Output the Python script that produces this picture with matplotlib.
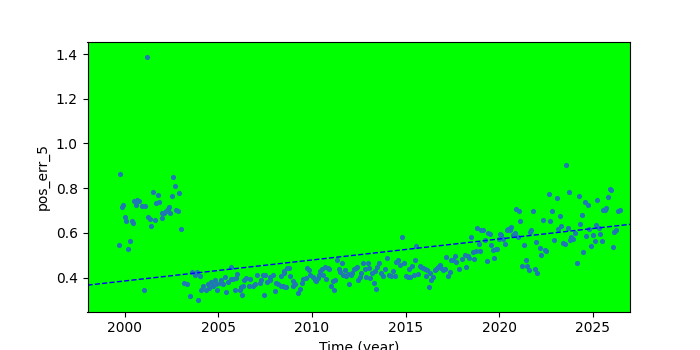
import matplotlib
matplotlib.use("Agg")
import matplotlib.pyplot as plt

years = [
    1999.75, 1999.90, 1999.86, 2000.00, 2000.07, 1999.70, 2000.28, 2000.18, 2000.36, 2000.45,
    2000.48, 2000.62, 2000.75, 2000.60, 2000.89, 2001.07, 2001.03, 2001.25, 2001.35, 2001.40,
    2001.62, 2001.51, 2001.67, 2001.78, 2001.83, 2001.96, 2001.99, 2002.10, 2002.19, 2002.28,
    2002.35, 2002.42, 2002.51, 2002.58, 2002.69, 2002.74, 2002.86, 2002.90, 2003.00, 2003.14,
    2003.33, 2001.19,
    2003.49, 2003.60, 2003.72, 2003.86, 2003.92, 2004.04, 2004.08, 2004.17, 2004.34, 2004.43,
    2004.52, 2004.61, 2004.70, 2004.79, 2004.88, 2004.93, 2005.06, 2005.15, 2005.24, 2005.36,
    2005.41, 2005.50, 2005.65, 2005.68, 2005.79, 2005.86, 2005.95, 2006.00, 2006.13, 2006.18,
    2006.25, 2006.30, 2006.39, 2006.48, 2006.61, 2006.71, 2006.85, 2006.93, 2007.07, 2007.20,
    2007.28, 2007.37, 2007.43, 2007.50, 2007.60, 2007.73, 2007.78, 2007.90, 2008.03, 2008.08,
    2008.17, 2008.32, 2008.35, 2008.44, 2008.53, 2008.62, 2008.67,
    2008.49, 2008.78, 2008.55, 2008.81, 2008.99, 2009.08, 2008.96, 2009.26, 2009.35, 2009.44,
    2009.53, 2009.67, 2009.71, 2009.85, 2009.92, 2010.06, 2010.15, 2010.24, 2010.32, 2010.38,
    2010.45, 2010.56, 2010.59, 2010.68, 2010.77, 2010.86, 2010.91, 2011.04, 2011.13, 2011.22,
    2011.16, 2011.34, 2011.45, 2011.52, 2011.63, 2011.66, 2011.75, 2011.84, 2011.93, 2011.98,
    2012.06, 2012.16, 2012.23, 2012.34, 2012.41, 2012.46, 2012.55, 2012.64, 2012.73, 2012.82,
    2012.91, 2013.00, 2013.05, 2013.12, 2013.23, 2013.30, 2013.35, 2013.44, 2013.48, 2013.58,
    2013.71, 2013.80, 2013.89, 2014.01, 2014.12, 2014.24, 2014.33, 2014.42, 2014.51, 2014.60,
    2014.69, 2014.81, 2014.90, 2015.01, 2015.13, 2015.18, 2015.26, 2015.36, 2015.43, 2015.49,
    2015.54, 2015.67, 2015.76, 2015.85, 2015.93, 2016.03, 2016.08, 2016.15, 2016.26, 2016.33,
    2016.38, 2016.47, 2016.56, 2016.65, 2016.74, 2016.83, 2016.92, 2017.00, 2017.09, 2017.18,
    2017.27, 2017.36, 2017.45, 2017.54, 2017.63, 2017.72, 2017.86,
    2018.03, 2018.16, 2018.21, 2018.34, 2018.39, 2018.52, 2018.61, 2018.66, 2018.79, 2018.82,
    2018.93, 2019.00, 2019.05, 2019.14, 2019.23, 2019.35, 2019.41, 2019.50, 2019.59, 2019.67,
    2019.71, 2019.82, 2019.89, 2019.99, 2020.07, 2020.12, 2020.21, 2020.30, 2020.42, 2020.48,
    2020.57, 2020.66, 2020.74, 2020.83, 2020.89, 2021.01, 2021.06, 2021.14, 2021.24, 2021.31,
    2021.42, 2021.49, 2021.60, 2021.63, 2021.72, 2021.81, 2021.90, 2021.96, 2022.03, 2022.17,
    2022.26, 2022.35, 2022.44, 2022.53, 2022.67, 2022.74, 2022.83, 2022.93, 2023.09, 2023.15,
    2023.24, 2023.33, 2023.41, 2023.50, 2023.56, 2023.68, 2023.73, 2023.81, 2023.86, 2023.95,
    2024.04, 2024.16, 2024.27, 2024.34, 2024.45, 2024.48, 2024.57, 2024.66, 2024.75, 2024.80,
    2024.93, 2025.01, 2025.11, 2025.16, 2025.23, 2025.34, 2025.37, 2025.52, 2025.55, 2025.64,
    2025.73, 2025.82, 2025.91, 2026.00, 2026.08, 2026.17, 2026.23, 2026.35, 2026.44,
]

pos_err = [
    0.863, 0.725, 0.716, 0.671, 0.654, 0.546, 0.565, 0.528, 0.651, 0.644,
    0.741, 0.748, 0.744, 0.726, 0.718, 0.718, 0.345, 0.669, 0.662, 0.631,
    0.658, 0.783, 0.733, 0.769, 0.738, 0.689, 0.666, 0.689, 0.699, 0.708,
    0.716, 0.689, 0.765, 0.850, 0.809, 0.704, 0.699, 0.778, 0.617, 0.376,
    0.369, 1.385,
    0.318, 0.425, 0.413, 0.425, 0.300, 0.406, 0.346, 0.361, 0.343, 0.369,
    0.354, 0.379, 0.361, 0.388, 0.369, 0.343, 0.376, 0.388, 0.369, 0.403,
    0.336, 0.379, 0.394, 0.448, 0.394, 0.346, 0.399, 0.417, 0.346, 0.358,
    0.320, 0.361, 0.388, 0.399, 0.361, 0.394, 0.364, 0.369, 0.413, 0.376,
    0.388, 0.413, 0.323, 0.413, 0.379, 0.403, 0.391, 0.413, 0.341, 0.376,
    0.369, 0.361, 0.406, 0.364, 0.428, 0.358, 0.443,
    0.421, 0.443, 0.358, 0.406, 0.384, 0.369, 0.364, 0.329, 0.350, 0.376,
    0.394, 0.399, 0.443, 0.433, 0.413, 0.403, 0.391, 0.384, 0.399, 0.413,
    0.428, 0.436, 0.413, 0.448, 0.394, 0.443, 0.436, 0.364, 0.384, 0.391,
    0.346, 0.477, 0.436, 0.424, 0.463, 0.413, 0.433, 0.406, 0.418, 0.369,
    0.413, 0.421, 0.436, 0.443, 0.448, 0.391, 0.403, 0.421, 0.466, 0.439,
    0.403, 0.466, 0.443, 0.399, 0.421, 0.376, 0.428, 0.350, 0.448, 0.463,
    0.421, 0.406, 0.436, 0.488, 0.413, 0.406, 0.428, 0.406, 0.468, 0.477,
    0.454, 0.582, 0.466, 0.406, 0.403, 0.436, 0.403, 0.450, 0.413, 0.477,
    0.540, 0.418, 0.450, 0.448, 0.443, 0.436, 0.409, 0.433, 0.358, 0.421,
    0.391, 0.403, 0.433, 0.439, 0.448, 0.454, 0.443, 0.433, 0.436, 0.492,
    0.406, 0.424, 0.480, 0.477, 0.498, 0.468, 0.436,
    0.483, 0.503, 0.448, 0.498, 0.488, 0.582, 0.513, 0.483, 0.517, 0.622,
    0.552, 0.517, 0.611, 0.611, 0.567, 0.473, 0.600, 0.596, 0.547, 0.522,
    0.488, 0.528, 0.528, 0.573, 0.596, 0.592, 0.573, 0.552, 0.611, 0.617,
    0.614, 0.626, 0.592, 0.600, 0.707, 0.582, 0.696, 0.653, 0.450, 0.547,
    0.480, 0.450, 0.433, 0.602, 0.611, 0.699, 0.436, 0.558, 0.421, 0.533,
    0.503, 0.656, 0.522, 0.517, 0.775, 0.651, 0.699, 0.570, 0.756, 0.617,
    0.674, 0.629, 0.555, 0.552, 0.904, 0.622, 0.783, 0.570, 0.582, 0.573,
    0.600, 0.466, 0.763, 0.641, 0.680, 0.515, 0.736, 0.585, 0.726, 0.617,
    0.540, 0.592, 0.562, 0.637, 0.748, 0.622, 0.596, 0.562, 0.700, 0.704,
    0.711, 0.760, 0.796, 0.790, 0.537, 0.602, 0.614, 0.696, 0.700,
]

trend_x = [1998.0, 2027.0]
trend_y = [0.366, 0.638]

fig, ax = plt.subplots(figsize=(7, 3.5), dpi=100)
ax.set_facecolor('#00ff00')
ax.plot(years, pos_err, linestyle='none', marker='o', markersize=3.7,
        markeredgewidth=0, color='#1f77b4')
ax.plot(trend_x, trend_y, linestyle='--', color='blue', linewidth=1.0)
ax.set_xlim(1998.0, 2027.0)
ax.set_ylim(0.248, 1.454)
ax.set_xlabel('Time (year)')
ax.set_ylabel('pos_err_5')
fig.savefig('out.png', dpi=100)
